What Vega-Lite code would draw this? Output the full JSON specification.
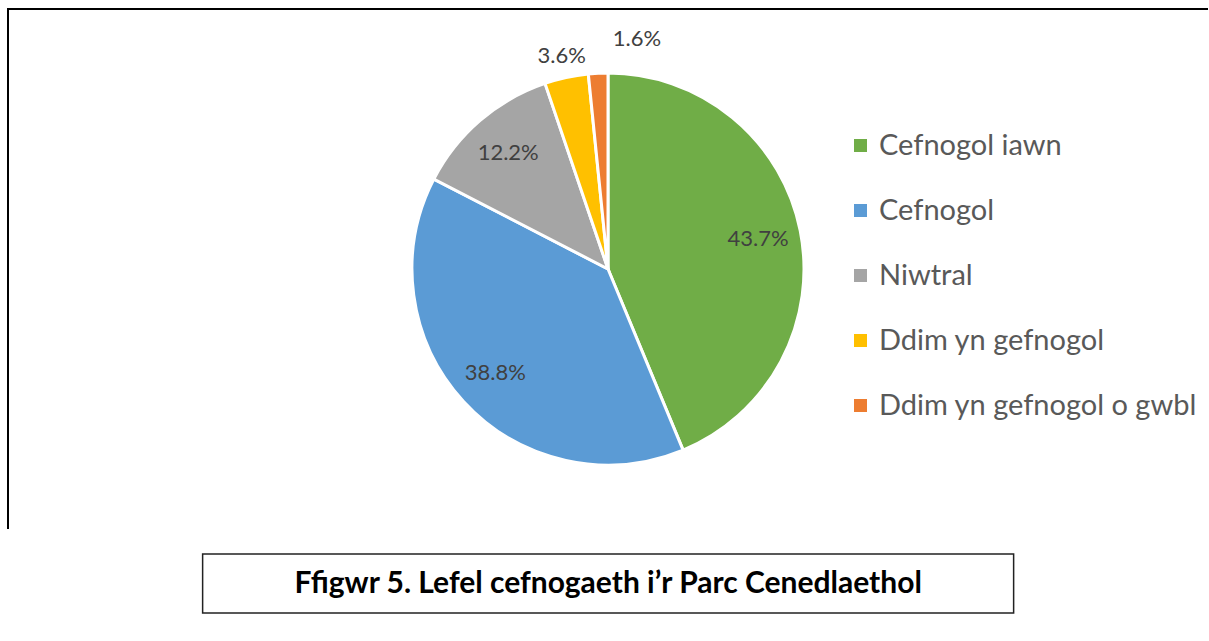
{
  "$schema": "https://vega.github.io/schema/vega-lite/v6.json",
  "padding": {"left": 7, "top": 8, "right": 0, "bottom": 0},
  "background": "white",
  "spacing": 23,
  "center": true,
  "config": {"font": "Lato"},
  "vconcat": [
    {
      "width": 1200,
      "height": 520,
      "view": {"stroke": "black", "strokeWidth": 2, "strokeDash": [1200, 1720, 520]},
      "data": {
        "values": [
          {"category": "Cefnogol iawn", "value": 43.7, "label": "43.7%", "order": 1},
          {"category": "Cefnogol", "value": 38.8, "label": "38.8%", "order": 2},
          {"category": "Niwtral", "value": 12.2, "label": "12.2%", "order": 3},
          {"category": "Ddim yn gefnogol", "value": 3.6, "label": "3.6%", "order": 4},
          {"category": "Ddim yn gefnogol o gwbl", "value": 1.6, "label": "1.6%", "order": 5}
        ]
      },
      "encoding": {
        "theta": {"field": "value", "type": "quantitative", "stack": true},
        "order": {"field": "order", "type": "quantitative"}
      },
      "layer": [
        {
          "mark": {"type": "arc", "outerRadius": 196, "stroke": "white", "strokeWidth": 3},
          "encoding": {
            "color": {
              "field": "category",
              "type": "nominal",
              "scale": {
                "domain": ["Cefnogol iawn", "Cefnogol", "Niwtral", "Ddim yn gefnogol", "Ddim yn gefnogol o gwbl"],
                "range": ["#70AD47", "#5B9BD5", "#A5A5A5", "#FFC000", "#ED7D31"]
              },
              "legend": {
                "title": null,
                "orient": "none",
                "legendX": 838,
                "legendY": 122,
                "padding": 0,
                "symbolType": "square",
                "symbolSize": 169,
                "symbolStrokeWidth": 0,
                "labelFontSize": 29,
                "labelFont": "Lato",
                "labelColor": "#595959",
                "labelOffset": 4,
                "rowPadding": 35,
                "labelLimit": 400
              }
            }
          }
        },
        {
          "mark": {"type": "text", "radius": 153, "fontSize": 22, "color": "#404040"},
          "encoding": {
            "text": {"condition": {"test": "datum.value > 5", "field": "label"}, "value": ""}
          }
        },
        {
          "mark": {"type": "text", "radius": 218, "fontSize": 22, "color": "#404040"},
          "encoding": {
            "text": {"condition": {"test": "datum.value > 3 && datum.value < 5", "field": "label"}, "value": ""}
          }
        },
        {
          "mark": {"type": "text", "radius": 220, "dx": 40, "dy": -10, "fontSize": 22, "color": "#404040"},
          "encoding": {
            "text": {"condition": {"test": "datum.value < 3", "field": "label"}, "value": ""}
          }
        }
      ]
    },
    {
      "width": 811,
      "height": 59,
      "view": {"stroke": "#222222", "strokeWidth": 1.5},
      "data": {"values": [{"title": "Ffigwr 5. Lefel cefnogaeth i’r Parc Cenedlaethol"}]},
      "mark": {"type": "text", "font": "Lato", "fontWeight": "bold", "fontSize": 30, "color": "black"},
      "encoding": {"text": {"field": "title", "type": "nominal"}}
    }
  ]
}
